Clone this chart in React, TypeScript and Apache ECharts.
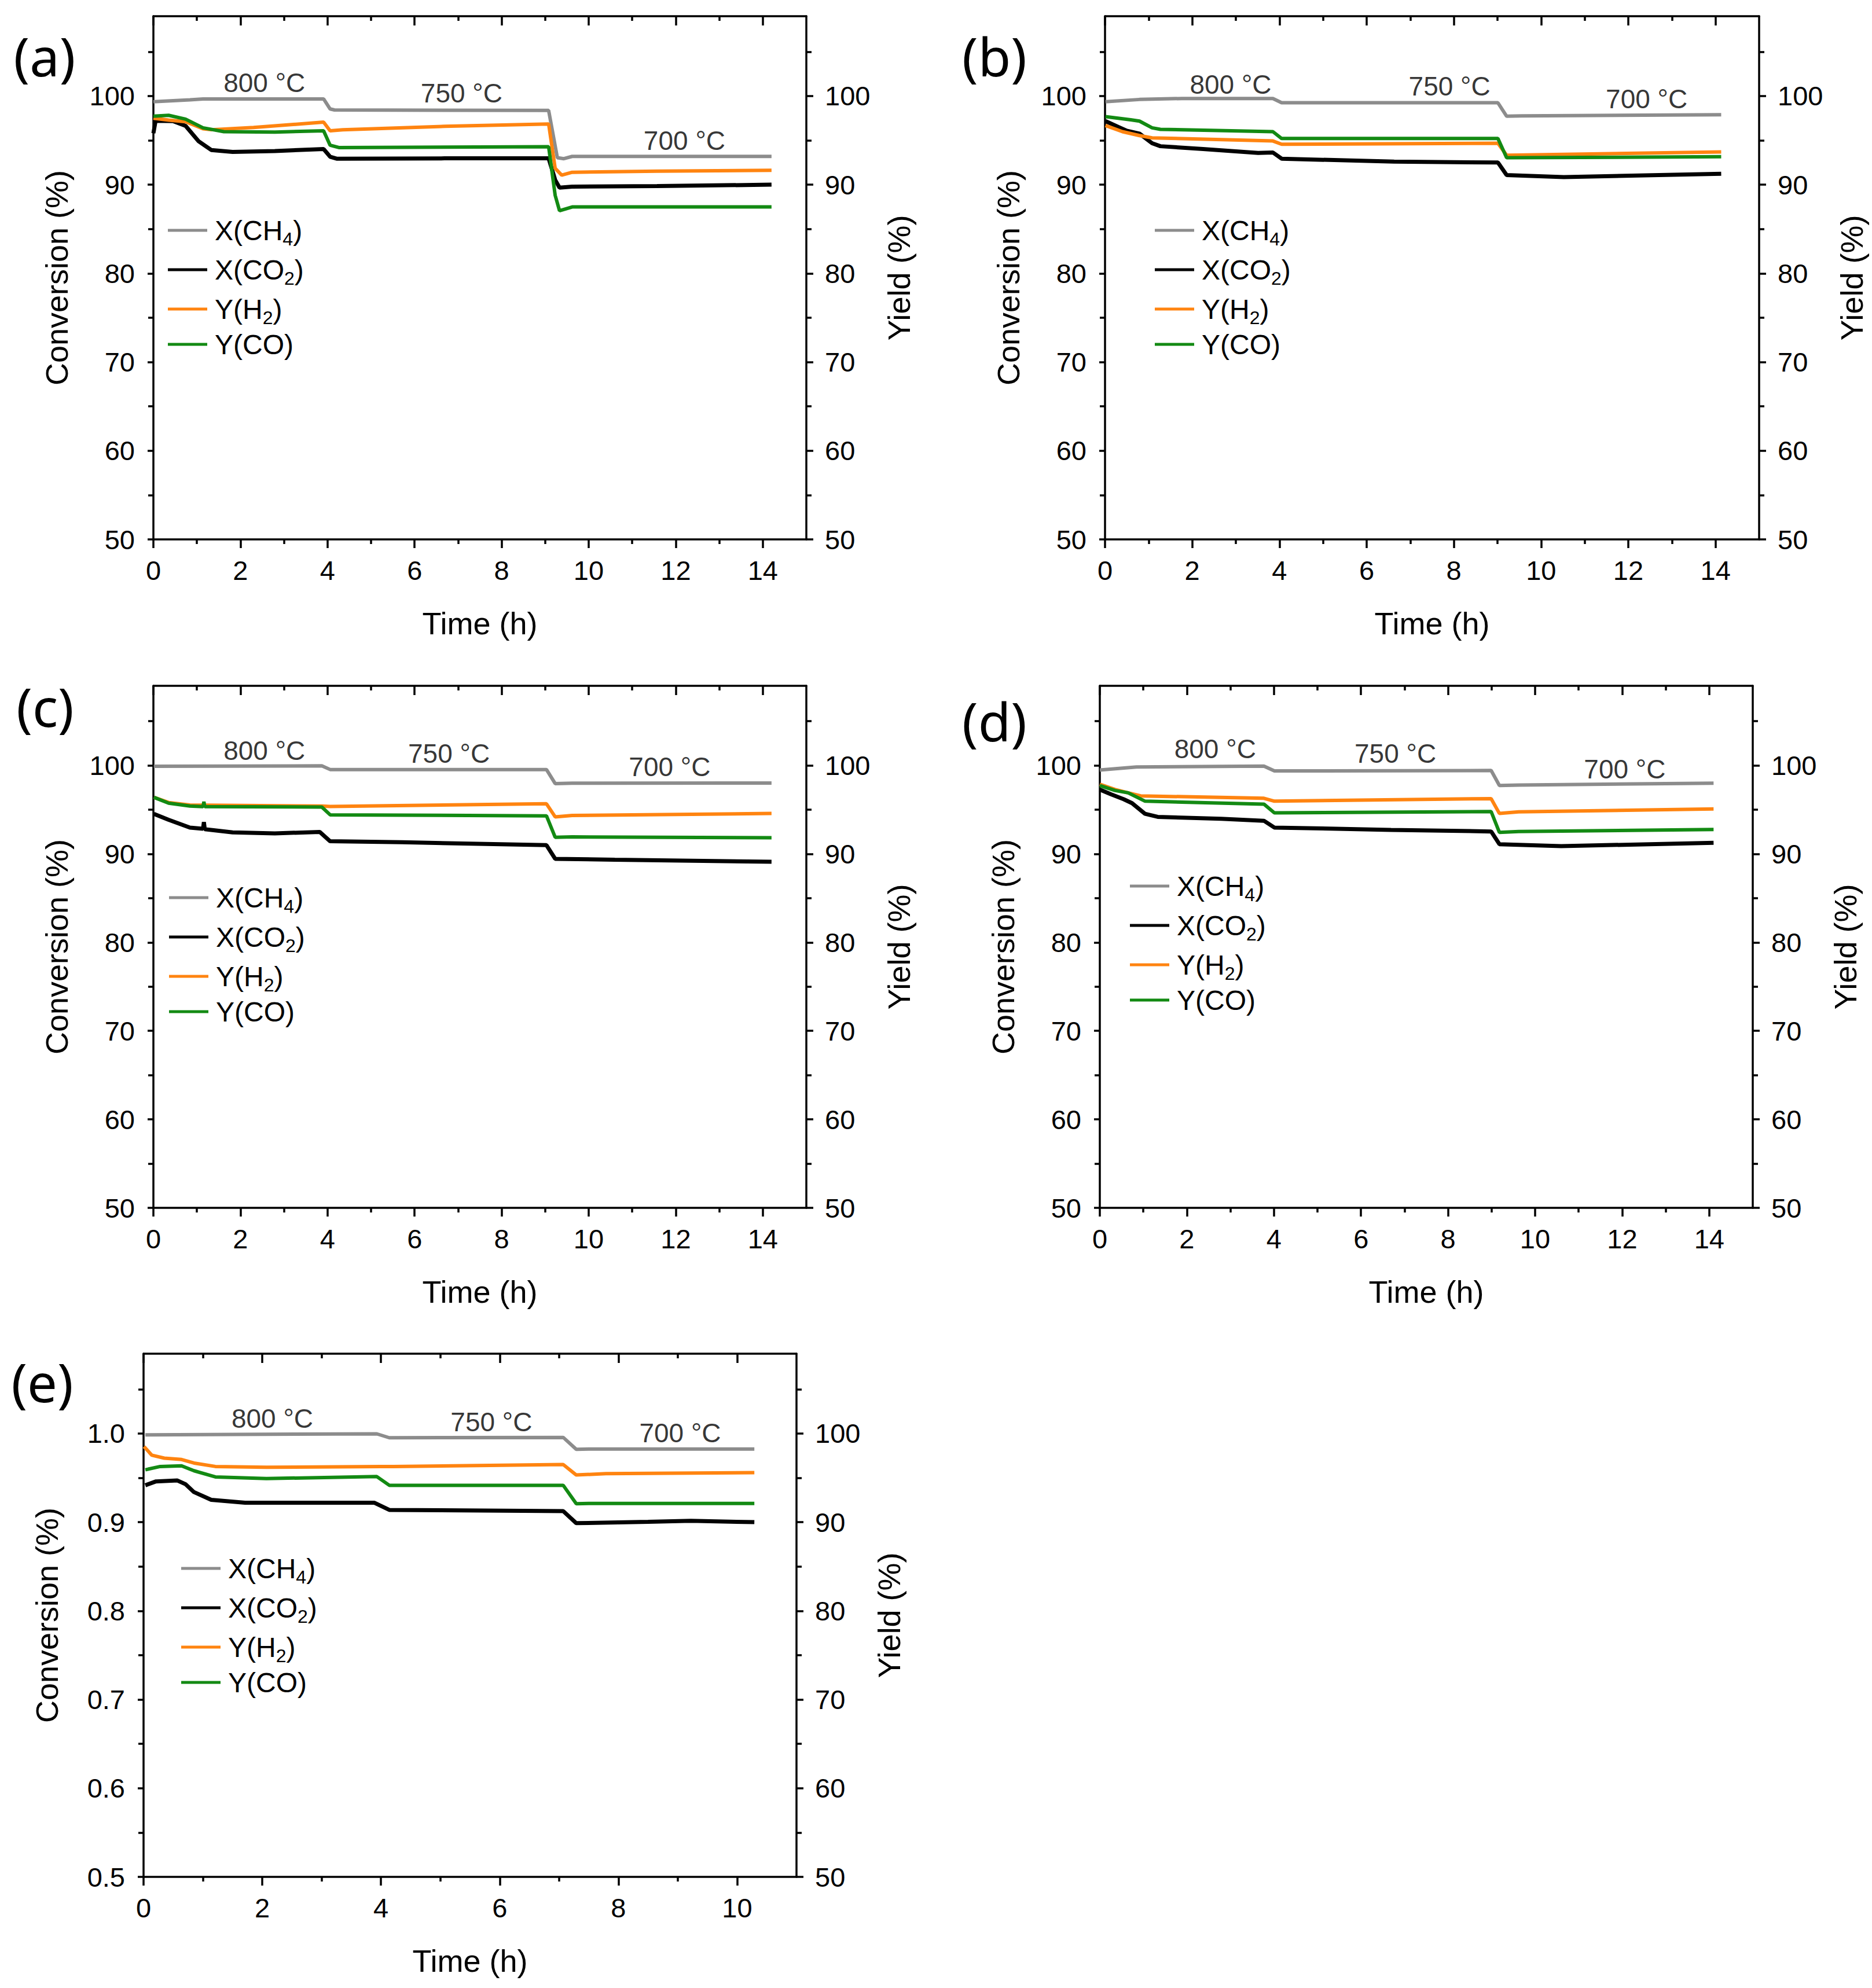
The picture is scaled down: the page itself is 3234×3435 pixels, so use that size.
import React, { useEffect, useRef } from "react";
import * as echarts from "echarts";

// ---------------- DATA ----------------
const SERIES_NAMES = ["X(CH4)", "X(CO2)", "Y(H2)", "Y(CO)"];
const SERIES_COLORS = ["#8c8c8c", "#000000", "#ff8410", "#138a13"];
const TEMP_LABELS = ["800 °C", "750 °C", "700 °C"];

// Panel (a)
const A_CH4 = [[0, 99.35], [0.84, 99.57], [1.14, 99.67], [3.91, 99.67], [4.06, 98.54], [4.16, 98.43], [9.08, 98.37], [9.28, 93.04], [9.43, 92.93], [9.62, 93.19], [14.2, 93.19]];
const A_CO2 = [[0, 95.8], [0.05, 97.2], [0.45, 97.17], [0.74, 96.63], [1.04, 94.89], [1.33, 93.91], [1.82, 93.69], [2.79, 93.8], [3.91, 94.02], [4.06, 93.15], [4.21, 92.93], [6.69, 92.97], [9.08, 92.97], [9.23, 90.54], [9.33, 89.67], [9.62, 89.78], [11.57, 89.84], [14.2, 90.0]];
const A_H2 = [[0, 97.5], [0.35, 97.28], [0.74, 97.1], [1.14, 96.3], [1.33, 96.2], [2.3, 96.45], [3.91, 97.06], [4.06, 96.08], [4.35, 96.19], [6.69, 96.58], [9.08, 96.85], [9.23, 91.84], [9.38, 91.08], [9.62, 91.4], [11.57, 91.52], [14.2, 91.63]];
const A_CO = [[0, 97.72], [0.35, 97.82], [0.74, 97.39], [1.14, 96.41], [1.62, 95.98], [2.79, 95.93], [3.91, 96.08], [4.06, 94.45], [4.26, 94.19], [9.08, 94.28], [9.23, 88.8], [9.33, 87.06], [9.62, 87.49], [14.2, 87.49]];
const A_TEMP_POS = [[2.55, 101.5], [7.08, 100.35], [12.2, 95.0]];

// Panel (b)
const B_CH4 = [[0.01, 99.35], [0.79, 99.61], [1.76, 99.72], [3.85, 99.72], [4.05, 99.24], [9.01, 99.24], [9.21, 97.72], [9.55, 97.76], [14.13, 97.89]];
const B_CO2 = [[0.01, 97.17], [0.3, 96.52], [0.5, 96.08], [0.79, 95.76], [1.08, 94.67], [1.27, 94.34], [2.25, 94.02], [3.51, 93.58], [3.85, 93.63], [4.05, 92.93], [6.63, 92.6], [9.01, 92.5], [9.21, 91.08], [10.52, 90.86], [14.13, 91.23]];
const B_H2 = [[0.01, 96.67], [0.4, 95.98], [0.79, 95.54], [1.08, 95.28], [3.85, 94.93], [4.05, 94.56], [9.01, 94.67], [9.21, 93.32], [14.13, 93.69]];
const B_CO = [[0.01, 97.67], [0.59, 97.32], [0.79, 97.17], [1.08, 96.41], [1.27, 96.24], [3.85, 95.98], [4.05, 95.21], [9.01, 95.21], [9.21, 93.04], [14.13, 93.15]];
const B_TEMP_POS = [[2.88, 101.3], [7.9, 101.1], [12.42, 99.67]];

// Panel (c)
const C_CH4 = [[0.01, 99.9], [3.87, 99.95], [4.06, 99.54], [9.03, 99.54], [9.23, 97.95], [9.62, 97.99], [14.2, 98.01]];
const C_CO2 = [[0.01, 94.53], [0.35, 93.86], [0.84, 92.98], [1.14, 92.85], [1.16, 93.6], [1.18, 92.8], [1.82, 92.43], [2.79, 92.32], [3.82, 92.49], [4.06, 91.43], [5.72, 91.32], [9.03, 90.99], [9.23, 89.45], [10.6, 89.34], [14.2, 89.12]];
const C_H2 = [[0.01, 96.4], [0.35, 95.81], [0.84, 95.52], [3.87, 95.41], [4.06, 95.36], [9.03, 95.67], [9.23, 94.19], [9.62, 94.35], [14.2, 94.57]];
const C_CO = [[0.01, 96.4], [0.35, 95.74], [0.84, 95.41], [1.14, 95.35], [1.16, 95.9], [1.18, 95.35], [3.87, 95.3], [4.06, 94.42], [9.03, 94.3], [9.23, 91.88], [9.62, 91.92], [14.2, 91.83]];
const C_TEMP_POS = [[2.55, 101.7], [6.79, 101.37], [11.86, 99.82]];

// Panel (d)
const D_CH4 = [[0, 99.49], [0.84, 99.82], [3.77, 99.93], [4.01, 99.38], [8.99, 99.43], [9.18, 97.73], [9.62, 97.79], [14.1, 97.99]];
const D_CO2 = [[0, 97.28], [0.26, 96.73], [0.55, 96.18], [0.74, 95.74], [1.04, 94.53], [1.33, 94.19], [2.79, 93.97], [3.77, 93.75], [4.01, 92.98], [6.69, 92.72], [8.99, 92.54], [9.18, 91.1], [10.6, 90.88], [14.1, 91.26]];
const D_H2 = [[0, 97.88], [0.35, 97.28], [0.65, 96.91], [0.94, 96.56], [3.77, 96.29], [4.01, 95.96], [8.99, 96.25], [9.18, 94.57], [9.62, 94.75], [14.1, 95.08]];
const D_CO = [[0, 97.73], [0.35, 97.17], [0.65, 96.91], [1.04, 95.96], [3.77, 95.63], [4.01, 94.64], [8.99, 94.79], [9.18, 92.43], [9.62, 92.54], [14.1, 92.76]];
const D_TEMP_POS = [[2.65, 101.9], [6.79, 101.37], [12.06, 99.6]];

// Panel (e) (left axis as fraction)
const E_CH4 = [[0.03, 0.9985], [3.93, 0.9996], [4.14, 0.9952], [7.07, 0.9956], [7.29, 0.9821], [7.5, 0.9825], [10.29, 0.9825]];
const E_CO2 = [[0.03, 0.9416], [0.21, 0.946], [0.57, 0.947], [0.71, 0.9427], [0.85, 0.9339], [1.14, 0.9252], [1.71, 0.9219], [3.89, 0.9219], [4.14, 0.9138], [7.07, 0.9125], [7.29, 0.8989], [8.5, 0.9004], [9.22, 0.9015], [10.29, 0.9]];
const E_H2 = [[0.008, 0.9853], [0.14, 0.9755], [0.35, 0.9722], [0.64, 0.9707], [0.85, 0.9667], [1.21, 0.9628], [2.07, 0.9619], [4.0, 0.9628], [4.21, 0.9628], [7.07, 0.965], [7.29, 0.9532], [7.79, 0.9547], [10.29, 0.9558]];
const E_CO = [[0.03, 0.9591], [0.28, 0.9628], [0.64, 0.9635], [0.85, 0.958], [1.21, 0.951], [2.07, 0.9492], [3.93, 0.9514], [4.14, 0.9416], [7.07, 0.9416], [7.29, 0.9208], [7.5, 0.9212], [10.29, 0.9212]];
const E_TEMP_POS = [[2.17, 1.017], [5.86, 1.0127], [9.04, 1.0007]];

// Tick values
const X_MAJOR_14 = [0, 2, 4, 6, 8, 10, 12, 14];
const X_MINOR_14 = [1, 3, 5, 7, 9, 11, 13];
const X_MAJOR_10 = [0, 2, 4, 6, 8, 10];
const X_MINOR_10 = [1, 3, 5, 7, 9];
const Y_MAJOR = [50, 60, 70, 80, 90, 100];
const Y_MINOR = [55, 65, 75, 85, 95, 105];
const Y_MAJOR_FRAC = [0.5, 0.6, 0.7, 0.8, 0.9, 1.0];
const Y_MINOR_FRAC = [0.55, 0.65, 0.75, 0.85, 0.95, 1.05];

// ---------------- STYLE / LAYOUT ----------------
const FONT = '"Liberation Sans", Arial, sans-serif';
const AXW = 3.5;
const LINE_WIDTHS = [6, 7, 6, 6];

const PANELS = [
  { tag: "(a)", tagPos: [77, 96], grid: { left: 265, top: 28, width: 1128, height: 904 }, xMax: 15, xMajor: X_MAJOR_14, xMinor: X_MINOR_14, yMin: 50, yMax: 109, yInt: 10, yMajor: Y_MAJOR, yMinor: Y_MINOR, frac: false, data: [A_CH4, A_CO2, A_H2, A_CO], temps: A_TEMP_POS, legend: [290, 367] },
  { tag: "(b)", tagPos: [1718, 96], grid: { left: 1909, top: 28, width: 1130, height: 904 }, xMax: 15, xMajor: X_MAJOR_14, xMinor: X_MINOR_14, yMin: 50, yMax: 109, yInt: 10, yMajor: Y_MAJOR, yMinor: Y_MINOR, frac: false, data: [B_CH4, B_CO2, B_H2, B_CO], temps: B_TEMP_POS, legend: [1995, 367] },
  { tag: "(c)", tagPos: [78, 1220], grid: { left: 265, top: 1185, width: 1128, height: 902 }, xMax: 15, xMajor: X_MAJOR_14, xMinor: X_MINOR_14, yMin: 50, yMax: 109, yInt: 10, yMajor: Y_MAJOR, yMinor: Y_MINOR, frac: false, data: [C_CH4, C_CO2, C_H2, C_CO], temps: C_TEMP_POS, legend: [292, 1520] },
  { tag: "(d)", tagPos: [1718, 1245], grid: { left: 1900, top: 1185, width: 1128, height: 902 }, xMax: 15, xMajor: X_MAJOR_14, xMinor: X_MINOR_14, yMin: 50, yMax: 109, yInt: 10, yMajor: Y_MAJOR, yMinor: Y_MINOR, frac: false, data: [D_CH4, D_CO2, D_H2, D_CO], temps: D_TEMP_POS, legend: [1952, 1500] },
  { tag: "(e)", tagPos: [73, 2387], grid: { left: 248, top: 2339, width: 1128, height: 904 }, xMax: 11, xMajor: X_MAJOR_10, xMinor: X_MINOR_10, yMin: 0.5, yMax: 1.09, yInt: 0.1, yMajor: Y_MAJOR_FRAC, yMinor: Y_MINOR_FRAC, frac: true, data: [E_CH4, E_CO2, E_H2, E_CO], temps: E_TEMP_POS, legend: [313, 2679] },
];

const LEGEND_RICH: Record<string, string> = {
  "X(CH4)": "{m|X(CH}{s|4}{m|)}",
  "X(CO2)": "{m|X(CO}{s|2}{m|)}",
  "Y(H2)": "{m|Y(H}{s|2}{m|)}",
  "Y(CO)": "{m|Y(CO)}",
};

function buildOption() {
  const grid: any[] = [];
  const xAxis: any[] = [];
  const yAxis: any[] = [];
  const series: any[] = [];
  const legend: any[] = [];
  const graphic: any[] = [];

  PANELS.forEach((p, gi) => {
    grid.push({ ...p.grid, containLabel: false });
    const xBase = { type: "value", gridIndex: gi, min: 0, max: p.xMax, interval: 1, splitLine: { show: false } };
    const lineOn = { show: true, onZero: false, lineStyle: { color: "#000", width: AXW } };
    const lineOff = { show: false, onZero: false };
    xAxis.push({
      ...xBase, position: "bottom", axisLine: lineOn,
      axisTick: { show: true, customValues: p.xMajor, length: 15, lineStyle: { color: "#000", width: AXW } },
      axisLabel: { show: true, customValues: p.xMajor, fontSize: 47, fontFamily: FONT, color: "#000", margin: 30 },
      name: "Time (h)", nameLocation: "middle", nameGap: 118,
      nameTextStyle: { fontSize: 54, fontFamily: FONT, color: "#000" },
    });
    xAxis.push({
      ...xBase, position: "bottom", axisLine: lineOff,
      axisTick: { show: true, customValues: p.xMinor, length: 8, lineStyle: { color: "#000", width: AXW } },
      axisLabel: { show: false },
    });
    xAxis.push({
      ...xBase, position: "top", axisLine: lineOn,
      axisTick: { show: true, inside: true, customValues: p.xMajor, length: 16, lineStyle: { color: "#000", width: AXW } },
      axisLabel: { show: false },
    });
    xAxis.push({
      ...xBase, position: "top", axisLine: lineOff,
      axisTick: { show: true, inside: true, customValues: p.xMinor, length: 8, lineStyle: { color: "#000", width: AXW } },
      axisLabel: { show: false },
    });

    const yBase = { type: "value", gridIndex: gi, min: p.yMin, max: p.yMax, interval: p.yInt, splitLine: { show: false } };
    const labelFmt = p.frac ? (v: number) => v.toFixed(1) : (v: number) => String(v);
    yAxis.push({
      ...yBase, position: "left", axisLine: lineOn,
      axisTick: { show: true, customValues: p.yMajor, length: 10, lineStyle: { color: "#000", width: AXW } },
      axisLabel: { show: true, customValues: p.yMajor, formatter: labelFmt, fontSize: 47, fontFamily: FONT, color: "#000", margin: 32 },
      name: "Conversion (%)", nameLocation: "middle", nameRotate: 90, nameGap: 140,
      nameTextStyle: { fontSize: 54, fontFamily: FONT, color: "#000" },
    });
    yAxis.push({
      ...yBase, position: "left", axisLine: lineOff,
      axisTick: { show: true, customValues: p.yMinor, length: 9, lineStyle: { color: "#000", width: AXW } },
      axisLabel: { show: false },
    });
    const rBase = { type: "value", gridIndex: gi, min: 50, max: 109, interval: 10, splitLine: { show: false } };
    yAxis.push({
      ...rBase, position: "right", axisLine: lineOn,
      axisTick: { show: true, customValues: Y_MAJOR, length: 12, lineStyle: { color: "#000", width: AXW } },
      axisLabel: { show: true, customValues: Y_MAJOR, fontSize: 47, fontFamily: FONT, color: "#000", margin: 32 },
      name: "Yield (%)", nameLocation: "middle", nameRotate: 90, nameGap: 133,
      nameTextStyle: { fontSize: 54, fontFamily: FONT, color: "#000" },
    });
    yAxis.push({
      ...rBase, position: "right", axisLine: lineOff,
      axisTick: { show: true, customValues: Y_MINOR, length: 9, lineStyle: { color: "#000", width: AXW } },
      axisLabel: { show: false },
    });

    const xi = gi * 4;
    const yi = gi * 4;
    p.data.forEach((d, si) => {
      series.push({
        type: "line", name: SERIES_NAMES[si], xAxisIndex: xi, yAxisIndex: yi,
        data: d, showSymbol: false, symbol: "none", silent: true,
        color: SERIES_COLORS[si],
        lineStyle: { color: SERIES_COLORS[si], width: LINE_WIDTHS[si] },
      });
    });
    series.push({
      type: "scatter", name: "temps" + gi, xAxisIndex: xi, yAxisIndex: yi, symbolSize: 0, silent: true,
      data: TEMP_LABELS.map((n, i) => ({ name: n, value: p.temps[i] })),
      label: { show: true, position: "inside", formatter: "{b}", fontSize: 46, fontFamily: FONT, color: "#000" },
    });

    legend.push({
      show: true, orient: "vertical", left: p.legend[0], top: p.legend[1], padding: 0,
      itemWidth: 68, itemHeight: 5, itemGap: 6, icon: "rect", selectedMode: false,
      data: SERIES_NAMES,
      formatter: (name: string) => LEGEND_RICH[name],
      textStyle: {
        color: "#000", fontFamily: FONT, fontSize: 48, padding: [0, 0, 0, 8],
        rich: {
          m: { fontSize: 48, lineHeight: 52, fontFamily: FONT, color: "#000" },
          s: { fontSize: 32, lineHeight: 32, fontFamily: FONT, color: "#000", padding: [30, 0, 0, 0] },
        },
      },
    });

    graphic.push({
      type: "text", x: p.tagPos[0], y: p.tagPos[1], silent: true,
      style: {
        text: p.tag, font: '400 92px "Noto Sans", "Open Sans", sans-serif', fill: "#000",
        textAlign: "center", textVerticalAlign: "middle", verticalAlign: "middle",
      },
    });
  });

  return {
    animation: false,
    backgroundColor: "#ffffff",
    grid, xAxis, yAxis, series, legend, graphic,
  };
}

export default function App() {
  const ref = useRef<HTMLDivElement>(null);
  useEffect(() => {
    document.body.style.margin = "0";
    document.body.style.overflow = "hidden";
    if (!ref.current) return;
    const chart = echarts.init(ref.current, null, { renderer: "svg" });
    chart.setOption(buildOption() as any);
    return () => chart.dispose();
  }, []);
  return <div ref={ref} style={{ width: 3234, height: 3435, background: "#fff" }} />;
}
